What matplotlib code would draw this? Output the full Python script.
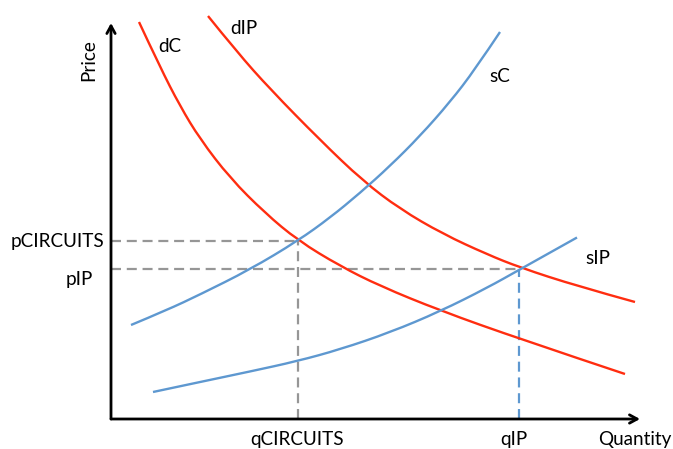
import matplotlib
matplotlib.use("Agg")
import matplotlib.pyplot as plt
from matplotlib.path import Path
from matplotlib.patches import PathPatch

plt.rcParams['font.family'] = ['Lato', 'DejaVu Sans']

# curves: quantity, price (origin at the axes corner)
dC_q = [28, 49, 69, 89, 119, 154, 187, 229, 269, 329, 409, 514]
dC_p = [397, 352, 313, 280, 241, 206, 178.5, 153, 133, 108.5, 80, 45]

dIP_q = [97, 126, 159, 209, 252, 289, 332, 376, 409, 466, 524]
dIP_p = [403, 367, 330, 279, 238, 210, 185, 164.7, 151.5, 133, 117]

sC_q = [20, 56, 89, 139, 187, 219, 249, 279, 309, 339, 364, 389]
sC_p = [94, 109, 124.5, 149.5, 178.3, 201.3, 226, 253, 283, 317, 349.5, 387]

sIP_q = [42, 89, 139, 186, 229, 279, 329, 376, 409, 466]
sIP_p = [27, 37, 47.5, 57.8, 69.6, 86.6, 107.6, 131.1, 149.6, 181.5]

# equilibrium points
pCIRCUITS, qCIRCUITS = 178, 186.5
pIP, qIP = 150, 408

RED = '#FF2D10'
BLUE = '#5E98D0'
GRAY = '#969696'

fig = plt.figure(figsize=(6.73, 4.49), dpi=100)
ax = fig.add_axes([0, 0, 1, 1])
ax.set_xlim(-111, 562)
ax.set_ylim(-30, 419)
ax.axis('off')


def smooth(q, p, color):
    verts = [(q[0], p[0])]
    codes = [Path.MOVETO]
    for i in range(1, len(q) - 1):
        mid = ((q[i] + q[i + 1]) / 2, (p[i] + p[i + 1]) / 2)
        if i == len(q) - 2:
            mid = (q[i + 1], p[i + 1])
        verts += [(q[i], p[i]), mid]
        codes += [Path.CURVE3, Path.CURVE3]
    ax.add_patch(PathPatch(Path(verts, codes), fill=False, edgecolor=color,
                           lw=1.7, capstyle='butt', zorder=3))


# dashed guide lines
dash = (0, (4.5, 2.6))
ax.plot([0, qCIRCUITS], [pCIRCUITS, pCIRCUITS], color=GRAY, lw=1.6, ls=dash, zorder=2)
ax.plot([0, qIP], [pIP, pIP], color=GRAY, lw=1.6, ls=dash, zorder=2)
ax.plot([qCIRCUITS, qCIRCUITS], [0, pCIRCUITS], color=GRAY, lw=1.6, ls=dash, zorder=2)
ax.plot([qIP, qIP], [0, pIP], color=BLUE, lw=1.6, ls=dash, zorder=2)

for q, p, c in [(dC_q, dC_p, RED), (dIP_q, dIP_p, RED),
                (sC_q, sC_p, BLUE), (sIP_q, sIP_p, BLUE)]:
    smooth(q, p, c)

# axes arrows
arrow = dict(arrowstyle='->,head_length=0.55,head_width=0.3', lw=2.0, color='black',
             shrinkA=0, shrinkB=0)
ax.annotate('', xy=(0, 396), xytext=(0, 0), arrowprops=arrow, zorder=4)
ax.annotate('', xy=(529, 0), xytext=(0, 0), arrowprops=arrow, zorder=4)

fs = 13.6
ax.text(-22, 359, 'Price', rotation=90, ha='center', va='center', fontsize=fs)
ax.text(524, -21, 'Quantity', ha='center', va='center', fontsize=fs)
ax.text(qCIRCUITS, -21, 'qCIRCUITS', ha='center', va='center', fontsize=fs)
ax.text(qIP - 5, -21, 'qIP', ha='center', va='center', fontsize=fs)
ax.text(-7, pCIRCUITS, 'pCIRCUITS', ha='right', va='center', fontsize=fs)
ax.text(-18, 140, 'pIP', ha='right', va='center', fontsize=fs)
ax.text(59, 373, 'dC', ha='center', va='center', fontsize=fs)
ax.text(133, 391, 'dIP', ha='center', va='center', fontsize=fs)
ax.text(389, 342, 'sC', ha='center', va='center', fontsize=fs)
ax.text(487, 160, 'sIP', ha='center', va='center', fontsize=fs)

fig.savefig('out.png', dpi=100)
